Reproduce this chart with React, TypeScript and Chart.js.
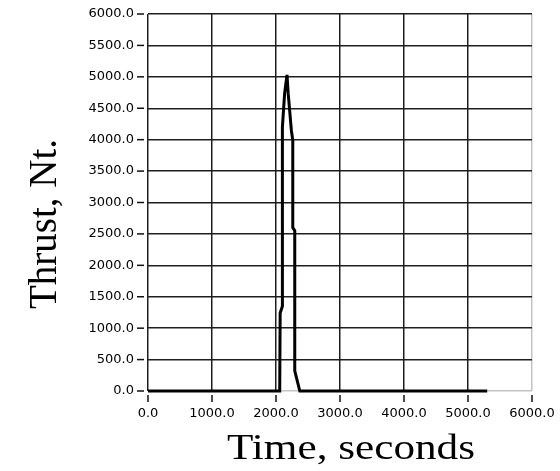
import React, { useEffect, useRef } from 'react';
import { Chart, registerables } from 'chart.js';

Chart.register(...registerables);

// Thrust trace (time in seconds, thrust in N)
const TIME_S = [0, 2058, 2065, 2100, 2100, 2135, 2172, 2190, 2240, 2262, 2262, 2293, 2293, 2340, 2372, 5300];
const THRUST_N = [0, 0, 1240, 1350, 4200, 4740, 5030, 4740, 4150, 3990, 2600, 2550, 320, 130, 0, 0];

const X_TICKS = [0, 1000, 2000, 3000, 4000, 5000, 6000];
const X_TICK_LABELS = ['0.0', '1000.0', '2000.0', '3000.0', '4000.0', '5000.0', '6000.0'];
const Y_TICKS = [0, 500, 1000, 1500, 2000, 2500, 3000, 3500, 4000, 4500, 5000, 5500, 6000];
const Y_TICK_LABELS = ['0.0', '500.0', '1000.0', '1500.0', '2000.0', '2500.0', '3000.0', '3500.0', '4000.0', '4500.0', '5000.0', '5500.0', '6000.0'];

const X_TITLE = 'Time, seconds';
const Y_TITLE = 'Thrust, Nt.';

const GRID_DARK = '#1e1e1e';
const GRID_LIGHT = '#c4c4c4';

const decorPlugin = {
  id: 'decor',
  afterDraw(chart: any) {
    const { ctx, chartArea, scales } = chart;
    const xs = scales.x;
    const ys = scales.y;
    ctx.save();
    ctx.strokeStyle = '#111111';
    ctx.lineWidth = 1.5;
    ys.ticks.forEach((t: any) => {
      const y = ys.getPixelForValue(t.value);
      ctx.beginPath();
      ctx.moveTo(chartArea.left - 11, y);
      ctx.lineTo(chartArea.left - 4, y);
      ctx.stroke();
    });
    xs.ticks.forEach((t: any) => {
      const x = xs.getPixelForValue(t.value);
      ctx.beginPath();
      ctx.moveTo(x, chartArea.bottom + 4);
      ctx.lineTo(x, chartArea.bottom + 11);
      ctx.stroke();
    });

    ctx.fillStyle = '#000000';
    ctx.textAlign = 'center';
    ctx.textBaseline = 'alphabetic';

    // x-axis title
    ctx.save();
    ctx.font = '36px "Liberation Serif"';
    ctx.translate(chartArea.left + 203, chartArea.bottom + 68);
    ctx.scale(1.2, 1);
    ctx.fillText(X_TITLE, 0, 0);
    ctx.restore();

    // y-axis title
    ctx.save();
    ctx.font = '39px "Liberation Serif"';
    ctx.translate(55.5, chartArea.top + 210);
    ctx.rotate(-Math.PI / 2);
    ctx.fillText(Y_TITLE, 0, 0);
    ctx.restore();

    ctx.restore();
  },
};

export default function App() {
  const canvasRef = useRef<HTMLCanvasElement | null>(null);

  useEffect(() => {
    const canvas = canvasRef.current;
    if (!canvas) return;
    const points = TIME_S.map((t, i) => ({ x: t, y: THRUST_N[i] }));
    const chart = new Chart(canvas, {
      type: 'line',
      data: {
        datasets: [
          {
            data: points,
            borderColor: '#000000',
            borderWidth: 3,
            pointRadius: 0,
            tension: 0,
            fill: false,
            clip: 6,
          } as any,
        ],
      },
      options: {
        animation: false,
        responsive: false,
        devicePixelRatio: 1,
        layout: { padding: { top: 14, right: 28, left: 0, bottom: 0 } },
        plugins: {
          legend: { display: false },
          tooltip: { enabled: false },
        },
        scales: {
          x: {
            type: 'linear',
            min: 0,
            max: 6000,
            afterBuildTicks: (s: any) => {
              s.ticks = X_TICKS.map((v) => ({ value: v }));
            },
            afterFit: (s: any) => {
              s.height = 80;
              s.paddingLeft = 0;
              s.paddingRight = 0;
            },
            ticks: {
              autoSkip: false,
              maxRotation: 0,
              padding: 15,
              color: '#000000',
              font: { family: 'DejaVu Sans', size: 13 },
              callback: (v: any) => X_TICK_LABELS[X_TICKS.indexOf(Number(v))] ?? '',
            },
            grid: {
              drawTicks: false,
              lineWidth: 1.5,
              color: (c: any) => (c.tick && c.tick.value === 6000 ? GRID_LIGHT : GRID_DARK),
            },
            border: { display: false },
          },
          y: {
            type: 'linear',
            min: 0,
            max: 6000,
            afterBuildTicks: (s: any) => {
              s.ticks = Y_TICKS.map((v) => ({ value: v }));
            },
            afterFit: (s: any) => {
              s.width = 148;
              s.paddingTop = 0;
              s.paddingBottom = 0;
            },
            ticks: {
              autoSkip: false,
              padding: 14,
              color: '#000000',
              font: { family: 'DejaVu Sans', size: 13 },
              callback: (v: any) => Y_TICK_LABELS[Y_TICKS.indexOf(Number(v))] ?? '',
            },
            grid: {
              drawTicks: false,
              lineWidth: 1.5,
              color: (c: any) => (c.tick && c.tick.value === 0 ? GRID_LIGHT : GRID_DARK),
            },
            border: { display: false },
          },
        },
      },
      plugins: [decorPlugin],
    });
    return () => chart.destroy();
  }, []);

  return (
    <div style={{ position: 'absolute', left: 0, top: 0, width: 560, height: 471, background: '#ffffff' }}>
      <canvas ref={canvasRef} width={560} height={471} style={{ display: 'block' }} />
    </div>
  );
}
